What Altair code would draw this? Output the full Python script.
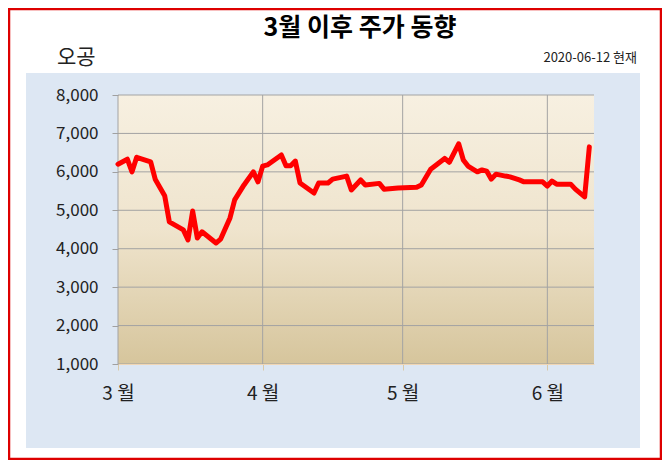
import altair as alt
import pandas as pd

# ---------------- data ----------------
dates = [
    "2020-03-01", "2020-03-03", "2020-03-04", "2020-03-05", "2020-03-08", "2020-03-09",
    "2020-03-11", "2020-03-12", "2020-03-15", "2020-03-16", "2020-03-17", "2020-03-18",
    "2020-03-19", "2020-03-22", "2020-03-23", "2020-03-25", "2020-03-26", "2020-03-28",
    "2020-03-30", "2020-03-31", "2020-04-01", "2020-04-02", "2020-04-05", "2020-04-06",
    "2020-04-07", "2020-04-08", "2020-04-09", "2020-04-12", "2020-04-13", "2020-04-15",
    "2020-04-16", "2020-04-19", "2020-04-20", "2020-04-22", "2020-04-23", "2020-04-26",
    "2020-04-27", "2020-04-30", "2020-05-04", "2020-05-05", "2020-05-07", "2020-05-10",
    "2020-05-11", "2020-05-13", "2020-05-14", "2020-05-15", "2020-05-17", "2020-05-18",
    "2020-05-19", "2020-05-20", "2020-05-21", "2020-05-23", "2020-05-24", "2020-05-26",
    "2020-05-27", "2020-05-31", "2020-06-01", "2020-06-02", "2020-06-03", "2020-06-06",
    "2020-06-07", "2020-06-09", "2020-06-10",
]
prices = [
    6200, 6330, 6000, 6380, 6260, 5800,
    5380, 4700, 4490, 4230, 4980, 4280,
    4440, 4150, 4250, 4800, 5270, 5660,
    6000, 5740, 6150, 6180, 6440, 6160,
    6160, 6280, 5710, 5450, 5710, 5710,
    5810, 5890, 5530, 5790, 5660, 5700,
    5550, 5580, 5600, 5660, 6070, 6350,
    6250, 6730, 6310, 6150, 6000, 6050,
    6020, 5810, 5940, 5890, 5870, 5790,
    5740, 5740, 5630, 5760, 5680, 5680,
    5550, 5350, 6650,
]
y_ticks = [1000, 2000, 3000, 4000, 5000, 6000, 7000, 8000]
month_starts = ["2020-03-01", "2020-04-01", "2020-05-01", "2020-06-01"]
month_labels = ["3 월", "4 월", "5 월", "6 월"]
axis_start = "2020-03-01"
axis_end = "2020-06-11"
title_text = "3월 이후 주가 동향"
company_text = "오공"
asof_text = "2020-06-12 현재"

# ---------------- derived tables ----------------
base = pd.Timestamp(axis_start)
df = pd.DataFrame({"date": pd.to_datetime(dates), "price": prices})
df["day"] = (df["date"] - base).dt.days
month_days = [(pd.Timestamp(d) - base).days for d in month_starts]
xdom = [0, (pd.Timestamp(axis_end) - base).days]
grid_x = pd.DataFrame({"day": month_days})
grid_y = pd.DataFrame({"price": y_ticks})
one = pd.DataFrame({"k": [0]})

FONT = "Noto Sans CJK KR"
W, H = 476, 269

label_expr = " : ".join(
    f"datum.value == {d} ? '{l}'" for d, l in zip(month_days, month_labels)
) + " : ''"

xscale = alt.Scale(domain=xdom, nice=False, zero=False)
yscale = alt.Scale(domain=[1000, 8000], nice=False, zero=False)
xaxis = alt.Axis(values=month_days, labelExpr=label_expr, grid=False, domain=True,
                 domainColor="#f0d6b4", tickColor="#d9c9a8", tickSize=6, labelPadding=14,
                 labelFontSize=19, labelColor="#222222", labelFont=FONT, labelFlush=False,
                 labelOverlap=False, title=None, zindex=1)
yaxis = alt.Axis(values=y_ticks, format=",.0f", grid=False, domain=False, tickColor="#a0a0a0",
                 tickSize=6, labelPadding=14, labelFontSize=17, labelColor="#222222",
                 labelFont=FONT, title=None, zindex=1)


def X(field):
    return alt.X(f"{field}:Q", scale=xscale, axis=xaxis)


def Y(field):
    return alt.Y(f"{field}:Q", scale=yscale, axis=yaxis)


border = alt.Chart(one).mark_rect(fill="white", stroke="#dd0000", strokeWidth=2.5).encode(
    x=alt.value(-109), x2=alt.value(543), y=alt.value(-86), y2=alt.value(364))
panel = alt.Chart(one).mark_rect(fill="#dde7f3").encode(
    x=alt.value(-92), x2=alt.value(522), y=alt.value(-22), y2=alt.value(353))
plotbg = alt.Chart(one).mark_rect(
    fill=alt.Gradient(gradient="linear",
                      stops=[alt.GradientStop(color="#f7f0e1", offset=0),
                             alt.GradientStop(color="#efe4cd", offset=0.5),
                             alt.GradientStop(color="#d6c59c", offset=1)],
                      x1=0, x2=0, y1=0, y2=1)).encode(
    x=alt.value(0), x2=alt.value(W), y=alt.value(0), y2=alt.value(H))

hgrid = alt.Chart(grid_y).mark_rule(color="#a3a3a3", strokeWidth=1).encode(y=Y("price"))
vgrid = alt.Chart(grid_x).mark_rule(color="#a3a3a3", strokeWidth=1).encode(x=X("day"))

title = alt.Chart(one).mark_text(text=title_text, font=FONT, fontSize=25, fontWeight="bold",
                                 align="center", baseline="middle", color="#000000").encode(
    x=alt.value(242), y=alt.value(-67))
company = alt.Chart(one).mark_text(text=company_text, font=FONT, fontSize=21, align="left",
                                   baseline="middle", color="#222222").encode(
    x=alt.value(-61), y=alt.value(-37))
asof = alt.Chart(one).mark_text(text=asof_text, font=FONT, fontSize=13, align="right",
                                baseline="middle", color="#222222").encode(
    x=alt.value(519), y=alt.value(-37))

line = alt.Chart(df).mark_line(color="#ff0000", strokeWidth=5, strokeJoin="round",
                               strokeCap="round").encode(x=X("day"), y=Y("price"))

chart = alt.layer(border, panel, plotbg, hgrid, vgrid, title, company, asof, line).properties(
    width=W, height=H,
    autosize=alt.AutoSizeParams(type="none"),
    padding={"left": 110, "top": 87, "right": 68, "bottom": 96},
    background="white",
).configure_view(stroke=None)

chart.save("out.html", embed_options={"renderer": "svg", "actions": False})
